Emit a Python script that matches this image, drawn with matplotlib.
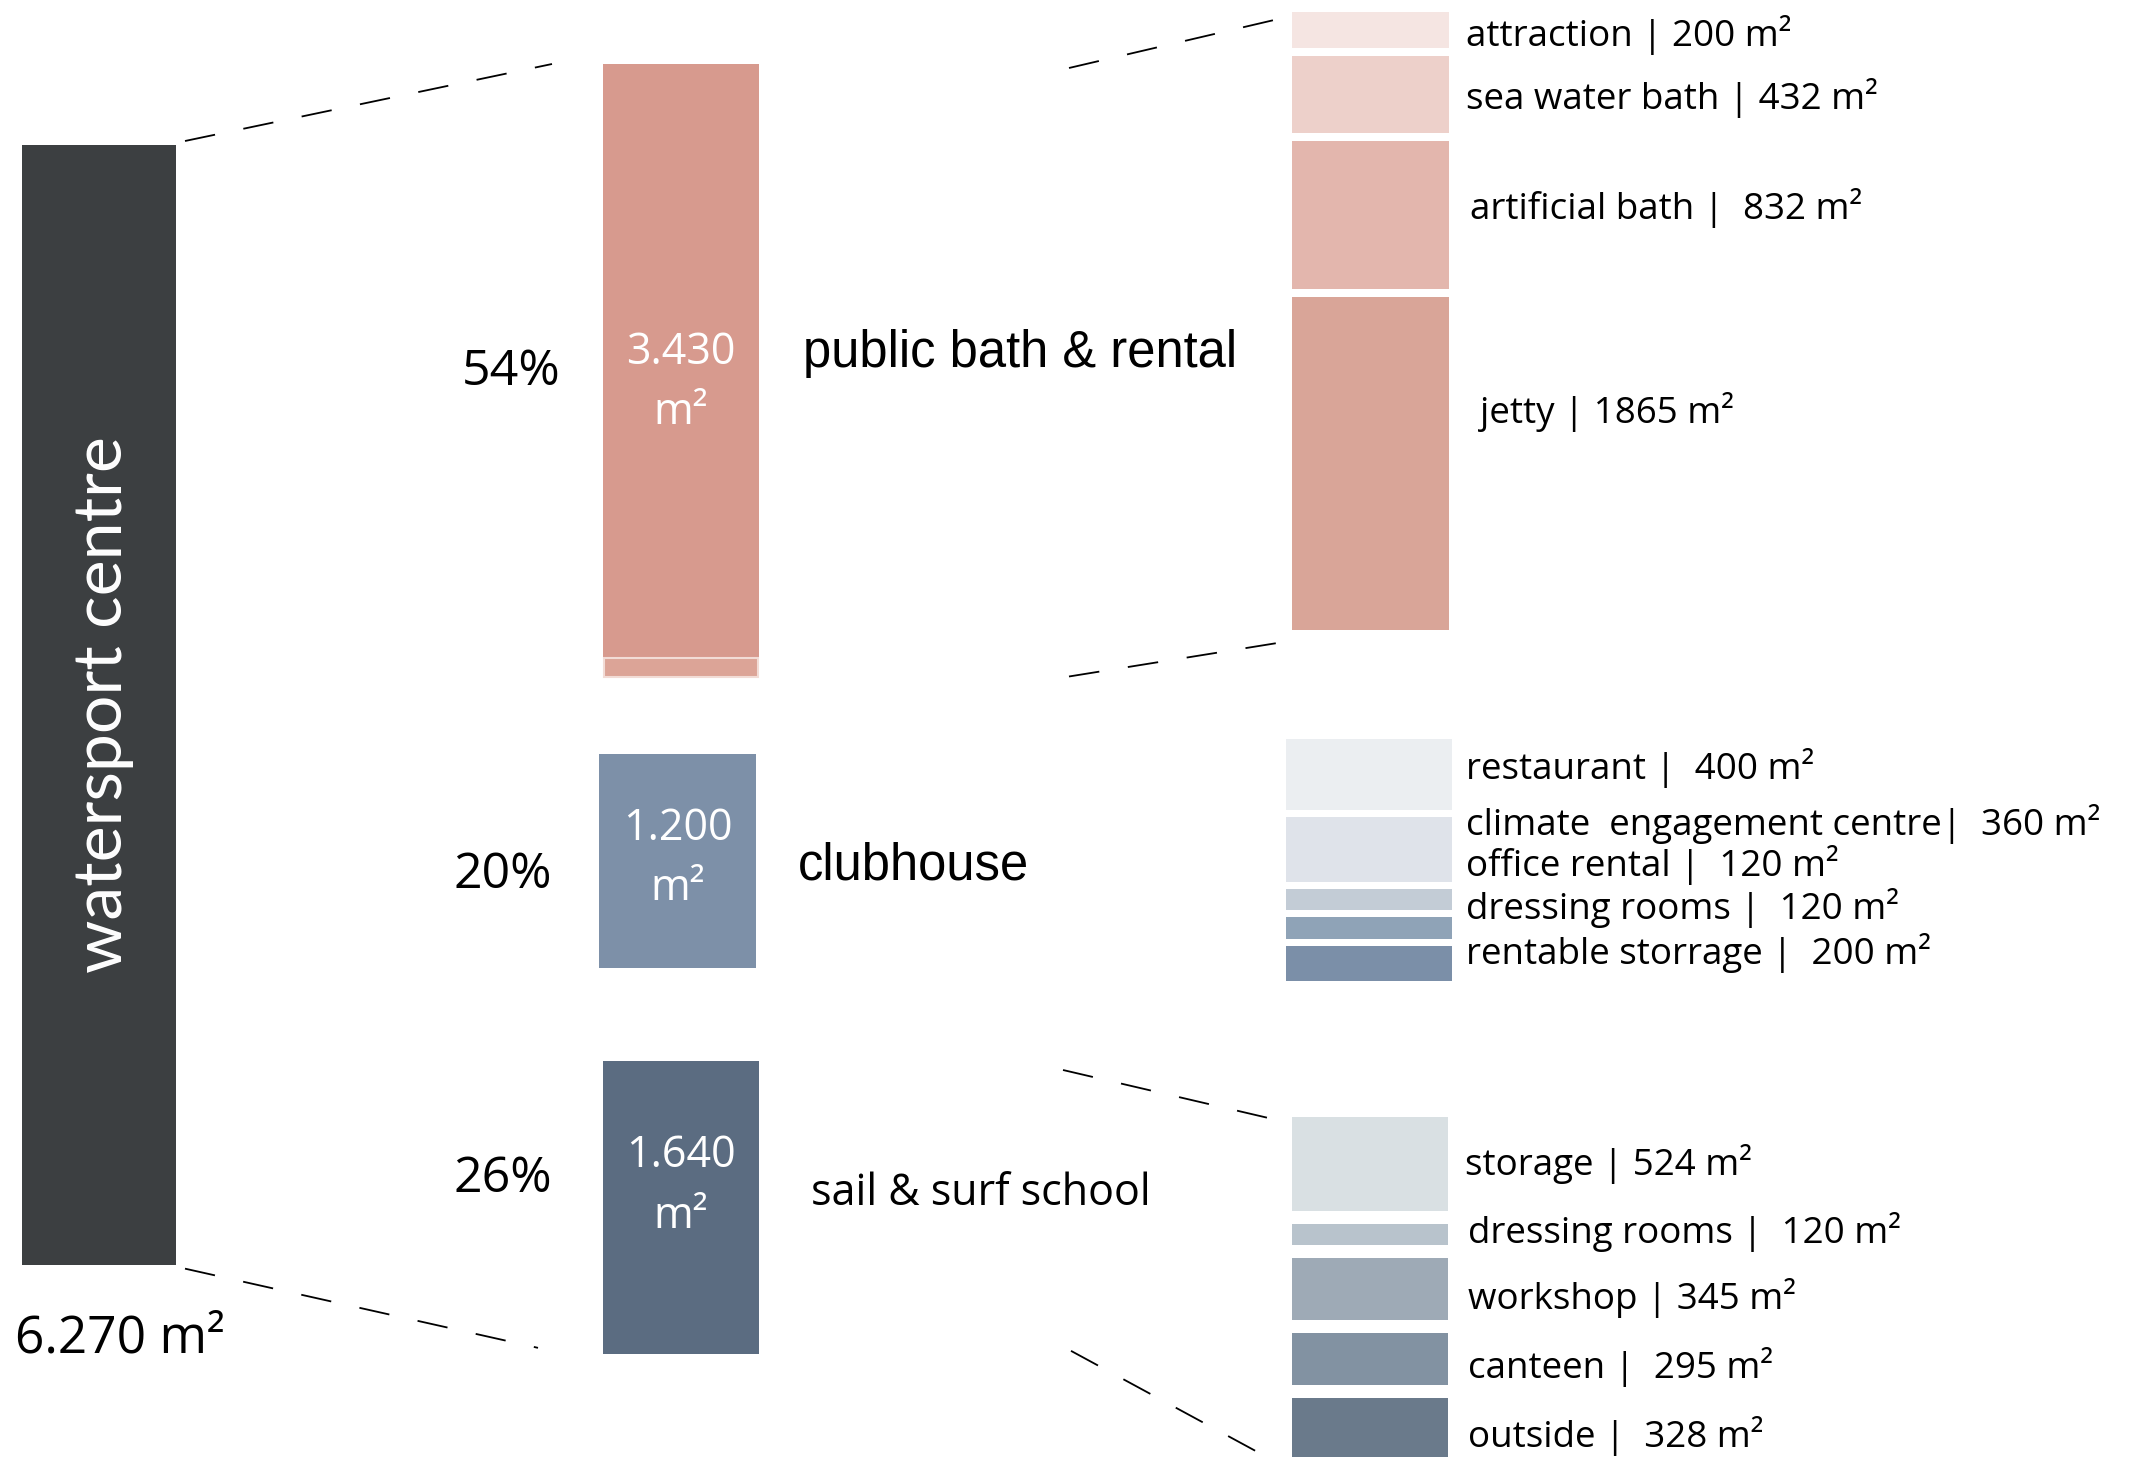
import matplotlib
matplotlib.use('Agg')
import matplotlib.pyplot as plt
from matplotlib import font_manager


# ---- areas (m2) ----
total_area = 6270
group_names = ['public bath & rental', 'clubhouse', 'sail & surf school']
group_areas = [3430, 1200, 1640]
group_shares = [54, 20, 26]

bath_rooms = ['attraction', 'sea water bath', 'artificial bath', 'jetty']
bath_areas = [200, 432, 832, 1865]

club_rooms = ['restaurant', 'climate  engagement centre', 'office rental',
              'dressing rooms', 'rentable storrage']
club_areas = [400, 360, 120, 120, 200]

school_rooms = ['storage', 'dressing rooms', 'workshop', 'canteen', 'outside']
school_areas = [524, 120, 345, 295, 328]


def pick_font(*names):
    """第一个已安装的字体"""
    for name in names:
        try:
            font_manager.findfont(font_manager.FontProperties(family=name),
                                  fallback_to_default=False)
            return name
        except ValueError:
            continue
    return 'DejaVu Sans'


HELV = pick_font('Liberation Sans', 'Inter')
MYRIAD = pick_font('Open Sans', 'Noto Sans')
THIN = pick_font('Lato', 'Roboto', 'Open Sans')
LABEL = pick_font('Open Sans', 'Lato')

# ---- colours ----
dark = '#3c3f41'
group_colors = ['#d79a8e', '#7d90a8', '#5b6c81']
bath_rest_color = '#dca497'
bath_colors = ['#f5e5e2', '#edd0ca', '#e3b6ad', '#d9a598']
club_colors = ['#ebeef1', '#dfe3ea', '#c3ccd6', '#8fa3b7', '#7b8fa8']
school_colors = ['#d9e0e3', '#b8c3cc', '#9eaab6', '#8292a2', '#6a7a8b']

# ---- layout (pixels, dpi 100) ----
W, H = 2129, 1462
K = 5.6                      # m2 per pixel on the vertical axis


def yd(p):
    """像素行 -> 面积坐标"""
    return p * K


fig = plt.figure(figsize=(W / 100, H / 100), dpi=100)
ax = fig.add_axes([0, 0, 1, 1])
ax.set_xlim(0, W)
ax.set_ylim(yd(H), 0)
ax.axis('off')

# total column
dark_left, dark_w, dark_top = 22, 154, 145
ax.bar(dark_left, total_area, bottom=yd(dark_top), width=dark_w,
       align='edge', color=dark)
dark_bottom = dark_top + total_area / K
ax.text(dark_left + dark_w / 2 + 4, yd(dark_top) + total_area / 2,
        'watersport centre', rotation=90, ha='center', va='center',
        color='white', fontsize=49, family=THIN, fontweight='normal')
ax.text(15, yd(1339), f'{total_area / 1000:.3f} m²', ha='left', va='center',
        fontsize=37, family=MYRIAD)

# group columns
main_left = [603, 599, 603]
main_w = [156, 157, 156]
main_top = [64, 754, 1061]
value_y = [353, 829, 1156]
unit_y = [413, 889, 1217]
share_y = [372, 875, 1179]
share_right = [561, 552, 552]
name_left = [803, 798, 811]
name_y = [354, 866, 1194]
name_fonts = [HELV, HELV, MYRIAD]
name_sizes = [36.5, 36.5, 31]

bath_sum = sum(bath_areas)
for i, area in enumerate(group_areas):
    top = yd(main_top[i])
    if i == 0:
        # rooms listed on the right plus the remaining strip
        ax.bar(main_left[i], bath_sum, bottom=top, width=main_w[i],
               align='edge', color=group_colors[i])
        ax.bar(main_left[i] + 1, area - bath_sum, bottom=top + bath_sum,
               width=main_w[i] - 2, align='edge', color=bath_rest_color,
               edgecolor='#f2dcd6', linewidth=1.5)
    else:
        ax.bar(main_left[i], area, bottom=top, width=main_w[i],
               align='edge', color=group_colors[i])
    cx = main_left[i] + main_w[i] / 2
    ax.text(cx, yd(value_y[i]), f'{area / 1000:.3f}', ha='center',
            va='center', color='white', fontsize=31, family=MYRIAD)
    ax.text(cx, yd(unit_y[i]), 'm²', ha='center', va='center',
            color='white', fontsize=31, family=MYRIAD)
    ax.text(share_right[i], yd(share_y[i]), f'{group_shares[i]}%',
            ha='right', va='center', fontsize=36, family=MYRIAD)
    ax.text(name_left[i], yd(name_y[i]), group_names[i], ha='left',
            va='center', fontsize=name_sizes[i], family=name_fonts[i])


def room_stack(rooms, areas, colors, left, width, start, gap,
               label_x, label_y, seps):
    y = yd(start)
    tops, bottoms = [], []
    for name, area, c, lx, ly, sep in zip(rooms, areas, colors,
                                          label_x, label_y, seps):
        ax.bar(left, area, bottom=y, width=width, align='edge', color=c)
        tops.append(y)
        bottoms.append(y + area)
        ax.text(lx, yd(ly), f'{name}{sep}{area} m²', ha='left', va='center',
                fontsize=26.5, family=LABEL)
        y += area + yd(gap)
    return tops[0], bottoms[-1]


bath_top, bath_bottom = room_stack(
    bath_rooms, bath_areas, bath_colors, 1292, 157, 12, 8,
    [1466, 1466, 1470, 1480], [35, 98, 208, 412],
    [' | ', ' | ', ' |  ', ' | '])
club_top, club_bottom = room_stack(
    club_rooms, club_areas, club_colors, 1286, 166, 739, 7,
    [1466] * 5, [768, 824, 865, 908, 953],
    [' |  ', '|  ', ' |  ', ' |  ', ' |  '])
school_top, school_bottom = room_stack(
    school_rooms, school_areas, school_colors, 1292, 156, 1117, 13,
    [1465, 1468, 1468, 1468, 1468], [1164, 1232, 1298, 1367, 1436],
    [' | ', ' |  ', ' | ', ' |  ', ' |  '])

# dashed connectors
dash = dict(color='black', linewidth=1.3, linestyle=(0, (17, 16)))
dark_right = dark_left + dark_w
pink_bottom = main_top[0] + group_areas[0] / K
sail_bottom = main_top[2] + group_areas[2] / K
ax.plot([dark_right + 9, main_left[0] - 51],
        [yd(dark_top - 4), yd(main_top[0])], **dash)
ax.plot([dark_right + 9, main_left[2] - 65],
        [yd(dark_bottom + 4), yd(sail_bottom - 6)], **dash)
ax.plot([1069, 1287], [yd(main_top[0] + 4), bath_top + yd(5)], **dash)
ax.plot([1069, 1287], [yd(pink_bottom), bath_bottom + yd(11)], **dash)
ax.plot([1063, 1277], [yd(main_top[2] + 9), school_top + yd(3)], **dash)
ax.plot([1071, 1272], [yd(sail_bottom - 3), school_bottom + yd(3)], **dash)

fig.savefig('out.png', dpi=100, facecolor='white')
